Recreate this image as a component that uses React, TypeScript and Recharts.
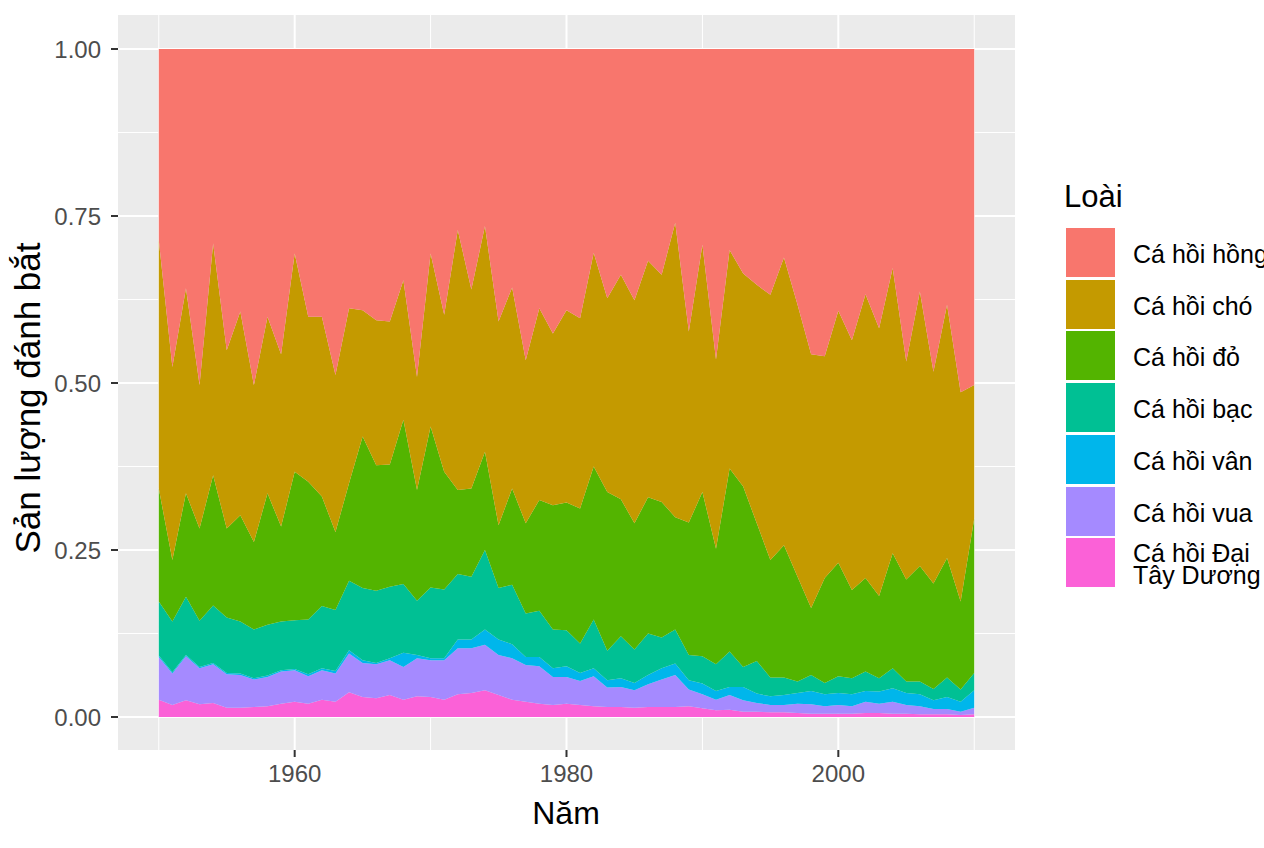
import { AreaChart, Area, XAxis, YAxis, CartesianGrid } from 'recharts'

const FONT = '"Liberation Sans", Arial, Helvetica, sans-serif'

const years = [
  1950, 1951, 1952, 1953, 1954, 1955, 1956, 1957, 1958, 1959,
  1960, 1961, 1962, 1963, 1964, 1965, 1966, 1967, 1968, 1969,
  1970, 1971, 1972, 1973, 1974, 1975, 1976, 1977, 1978, 1979,
  1980, 1981, 1982, 1983, 1984, 1985, 1986, 1987, 1988, 1989,
  1990, 1991, 1992, 1993, 1994, 1995, 1996, 1997, 1998, 1999,
  2000, 2001, 2002, 2003, 2004, 2005, 2006, 2007, 2008, 2009, 2010,
]

// share of catch per species (bottom layer first)
const atlantic = [
  0.026, 0.018, 0.025, 0.019, 0.021, 0.014, 0.014, 0.015, 0.016, 0.020,
  0.023, 0.020, 0.026, 0.023, 0.037, 0.030, 0.028, 0.033, 0.026, 0.031,
  0.030, 0.026, 0.034, 0.036, 0.040, 0.033, 0.026, 0.023, 0.020, 0.018,
  0.020, 0.018, 0.016, 0.015, 0.015, 0.014, 0.015, 0.015, 0.015, 0.016,
  0.013, 0.010, 0.011, 0.008, 0.008, 0.007, 0.007, 0.006, 0.005, 0.005,
  0.005, 0.005, 0.006, 0.006, 0.005, 0.005, 0.004, 0.004, 0.004, 0.003, 0.004,
]
const king = [
  0.064, 0.047, 0.066, 0.054, 0.058, 0.050, 0.049, 0.041, 0.044, 0.048,
  0.047, 0.041, 0.044, 0.042, 0.058, 0.051, 0.051, 0.052, 0.049, 0.057,
  0.055, 0.059, 0.069, 0.067, 0.068, 0.060, 0.062, 0.055, 0.056, 0.042,
  0.040, 0.036, 0.045, 0.029, 0.030, 0.026, 0.034, 0.041, 0.048, 0.025,
  0.021, 0.016, 0.022, 0.017, 0.013, 0.011, 0.011, 0.014, 0.014, 0.011,
  0.013, 0.011, 0.017, 0.014, 0.018, 0.013, 0.012, 0.008, 0.008, 0.005, 0.010,
]
const rainbow = [
  0.002, 0.002, 0.002, 0.002, 0.002, 0.002, 0.002, 0.002, 0.002, 0.002,
  0.002, 0.003, 0.003, 0.004, 0.005, 0.004, 0.002, 0.003, 0.021, 0.005,
  0.003, 0.003, 0.013, 0.013, 0.023, 0.023, 0.021, 0.012, 0.014, 0.013,
  0.016, 0.012, 0.012, 0.011, 0.013, 0.011, 0.014, 0.017, 0.017, 0.014,
  0.016, 0.013, 0.012, 0.020, 0.014, 0.013, 0.015, 0.016, 0.020, 0.018,
  0.018, 0.018, 0.016, 0.018, 0.020, 0.018, 0.018, 0.013, 0.018, 0.015, 0.026,
]
const coho = [
  0.081, 0.076, 0.087, 0.069, 0.086, 0.083, 0.078, 0.073, 0.076, 0.073,
  0.073, 0.082, 0.093, 0.091, 0.104, 0.108, 0.108, 0.107, 0.103, 0.081,
  0.106, 0.103, 0.098, 0.094, 0.119, 0.077, 0.089, 0.065, 0.069, 0.058,
  0.054, 0.044, 0.073, 0.044, 0.063, 0.050, 0.062, 0.046, 0.051, 0.038,
  0.041, 0.040, 0.053, 0.030, 0.049, 0.028, 0.026, 0.017, 0.024, 0.017,
  0.025, 0.024, 0.029, 0.020, 0.030, 0.017, 0.019, 0.017, 0.029, 0.018, 0.026,
]
const sockeye = [
  0.169, 0.092, 0.155, 0.138, 0.195, 0.133, 0.159, 0.131, 0.197, 0.142,
  0.222, 0.206, 0.164, 0.117, 0.146, 0.227, 0.188, 0.183, 0.246, 0.166,
  0.241, 0.176, 0.126, 0.132, 0.147, 0.094, 0.144, 0.135, 0.166, 0.186,
  0.191, 0.202, 0.229, 0.238, 0.205, 0.189, 0.204, 0.203, 0.168, 0.198,
  0.246, 0.173, 0.274, 0.270, 0.206, 0.176, 0.198, 0.157, 0.100, 0.157,
  0.170, 0.132, 0.140, 0.123, 0.172, 0.153, 0.173, 0.158, 0.179, 0.132, 0.231,
]
const chum = [
  0.372, 0.289, 0.307, 0.215, 0.347, 0.267, 0.305, 0.235, 0.264, 0.258,
  0.327, 0.247, 0.269, 0.235, 0.262, 0.189, 0.217, 0.214, 0.209, 0.169,
  0.259, 0.235, 0.389, 0.298, 0.338, 0.305, 0.301, 0.244, 0.287, 0.257,
  0.288, 0.285, 0.320, 0.290, 0.336, 0.334, 0.354, 0.340, 0.441, 0.286,
  0.370, 0.283, 0.327, 0.319, 0.357, 0.397, 0.431, 0.407, 0.380, 0.332,
  0.377, 0.374, 0.425, 0.401, 0.427, 0.326, 0.411, 0.317, 0.379, 0.313, 0.200,
]
const pink = [
  0.286, 0.476, 0.358, 0.503, 0.291, 0.451, 0.393, 0.503, 0.401, 0.457,
  0.306, 0.401, 0.401, 0.488, 0.388, 0.391, 0.406, 0.408, 0.346, 0.491,
  0.306, 0.398, 0.271, 0.360, 0.265, 0.408, 0.357, 0.466, 0.388, 0.426,
  0.391, 0.403, 0.305, 0.373, 0.338, 0.376, 0.317, 0.338, 0.260, 0.423,
  0.293, 0.465, 0.301, 0.336, 0.353, 0.368, 0.312, 0.383, 0.457, 0.460,
  0.392, 0.436, 0.367, 0.418, 0.328, 0.468, 0.363, 0.483, 0.383, 0.514, 0.503,
]

const yTicks = [0, 0.25, 0.5, 0.75, 1]
const yMinor = [0.125, 0.375, 0.625, 0.875]
const xTicks = [1960, 1980, 2000]
const xMinor = [1950, 1970, 1990, 2010]

// legend order (top to bottom), same as ggplot
const series = [
  { key: 'pink', label: 'Cá hồi hồng', color: '#F8766D' },
  { key: 'chum', label: 'Cá hồi chó', color: '#C49A00' },
  { key: 'sockeye', label: 'Cá hồi đỏ', color: '#53B400' },
  { key: 'coho', label: 'Cá hồi bạc', color: '#00C094' },
  { key: 'rainbow', label: 'Cá hồi vân', color: '#00B6EB' },
  { key: 'king', label: 'Cá hồi vua', color: '#A58AFF' },
  { key: 'atlantic', label: 'Cá hồi Đại\nTây Dương', color: '#FB61D7' },
]

const data = years.map((year, i) => ({
  year,
  atlantic: atlantic[i],
  king: king[i],
  rainbow: rainbow[i],
  coho: coho[i],
  sockeye: sockeye[i],
  chum: chum[i],
  pink: pink[i],
}))

const App = () => {
  const stackOrder = [...series].reverse()

  return (
    <div
      style={{
        position: 'absolute',
        left: 0,
        top: 0,
        width: 1264,
        height: 848,
        overflow: 'hidden',
        background: '#ffffff',
        fontFamily: FONT,
      }}
    >
      <AreaChart
        width={1264}
        height={848}
        data={data}
        stackOffset="expand"
        margin={{ top: 15, right: 249, bottom: 48, left: 0 }}
      >
        <CartesianGrid
          fill="#EBEBEB"
          stroke="#ffffff"
          strokeWidth={1}
          horizontalValues={yMinor}
          verticalValues={xMinor}
        />
        <CartesianGrid
          fillOpacity={0}
          stroke="#ffffff"
          strokeWidth={2}
          horizontalValues={yTicks}
          verticalValues={xTicks}
        />
        <XAxis
          dataKey="year"
          type="number"
          domain={[1947, 2013]}
          allowDataOverflow
          ticks={xTicks}
          interval={0}
          height={50}
          axisLine={false}
          tickSize={7}
          tickMargin={8}
          tickLine={{ stroke: '#333333', strokeWidth: 2 }}
          tick={{ fill: '#4D4D4D', fontSize: 24, fontFamily: FONT }}
        />
        {/* expand offset pins the domain to [0, 1]; padding gives ggplot's 5% expansion */}
        <YAxis
          type="number"
          ticks={yTicks}
          interval={0}
          width={118}
          padding={{ top: 34, bottom: 33 }}
          axisLine={false}
          tickSize={7}
          tickMargin={10}
          tickLine={{ stroke: '#333333', strokeWidth: 2 }}
          tick={{ fill: '#4D4D4D', fontSize: 24, fontFamily: FONT }}
          tickFormatter={(v: number) => v.toFixed(2)}
        />
        {stackOrder.map((s) => (
          <Area
            key={s.key}
            type="linear"
            dataKey={s.key}
            stackId="1"
            fill={s.color}
            fillOpacity={1}
            stroke="none"
            dot={false}
            activeDot={false}
            isAnimationActive={false}
          />
        ))}
      </AreaChart>

      <div
        style={{
          position: 'absolute',
          left: 566,
          top: 813,
          transform: 'translate(-50%, -50%)',
          fontSize: 32,
          lineHeight: 1,
          whiteSpace: 'nowrap',
          color: '#000',
        }}
      >
        Năm
      </div>
      <div
        style={{
          position: 'absolute',
          left: 27,
          top: 398,
          transform: 'translate(-50%, -50%) rotate(-90deg)',
          fontSize: 35,
          lineHeight: 1,
          whiteSpace: 'nowrap',
          color: '#000',
        }}
      >
        Sản lượng đánh bắt
      </div>

      {/* legend */}
      <div
        style={{
          position: 'absolute',
          left: 1064,
          top: 196,
          transform: 'translateY(-50%)',
          fontSize: 31,
          lineHeight: 1,
          whiteSpace: 'nowrap',
          color: '#000',
        }}
      >
        Loài
      </div>
      {series.map((s, i) => {
        const top = 228 + i * 51.7
        return (
          <div key={s.key}>
            <div
              style={{
                position: 'absolute',
                left: 1066,
                top,
                width: 49,
                height: 49,
                background: s.color,
              }}
            />
            <div
              style={{
                position: 'absolute',
                left: 1133,
                top: top + 26,
                transform: 'translateY(-50%)',
                fontSize: 25,
                lineHeight: '22px',
                whiteSpace: 'pre',
                color: '#000',
              }}
            >
              {s.label}
            </div>
          </div>
        )
      })}
    </div>
  )
}

export default App
